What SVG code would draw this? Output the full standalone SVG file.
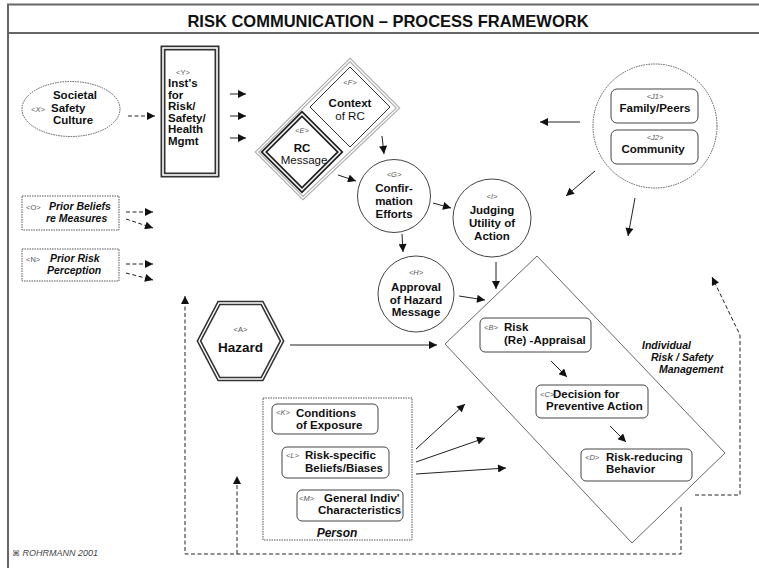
<svg xmlns="http://www.w3.org/2000/svg" width="759" height="568" viewBox="0 0 759 568">
<style>
text{font-family:"Liberation Sans",Arial,sans-serif;fill:#111}
.b{font-weight:bold;font-size:11.5px}
.bi{font-weight:bold;font-style:italic;font-size:10.5px}
.n{font-size:11.5px}
.lab{font-size:7.5px;fill:#555}
.li{font-size:7.5px;fill:#555;font-style:italic}
.m{text-anchor:middle}
.ln{fill:none;stroke:#222;stroke-width:1}
.dash{fill:none;stroke:#222;stroke-width:1;stroke-dasharray:4 2.5}
.dot{fill:none;stroke:#555;stroke-width:1;stroke-dasharray:1.5 1}
.box{fill:#fff;stroke:#444;stroke-width:1}
.frame{stroke:#666;stroke-width:2;fill:none}
</style>
<defs>
<marker id="ah" viewBox="0 0 10 10" refX="10" refY="5" markerWidth="9" markerHeight="8" markerUnits="userSpaceOnUse" orient="auto">
<path d="M0,0 L10,5 L0,10 z" fill="#111"/>
</marker>
</defs>
<rect width="759" height="568" fill="#fff"/>
<g id="frame">
<line class="frame" x1="7" y1="4.5" x2="759" y2="4.5"/>
<line class="frame" x1="7" y1="33" x2="759" y2="33"/>
<line class="frame" x1="8" y1="4" x2="8" y2="568"/>
<text x="388" y="27" class="m" style="font-weight:bold;font-size:16.5px">RISK COMMUNICATION – PROCESS FRAMEWORK</text>
</g>
<g id="nodeX">
<ellipse cx="71" cy="109" rx="49" ry="27.5" class="dot"/>
<text x="75" y="99" class="b m">Societal</text>
<text x="31" y="111.5" class="li">&lt;X&gt;</text>
<text x="51" y="112" class="b">Safety</text>
<text x="73" y="124" class="b m">Culture</text>
</g>
<g id="nodeY">
<rect x="163" y="48" width="54" height="127" fill="#fff" stroke="#333" stroke-width="5"/>
<rect x="163" y="48" width="54" height="127" fill="none" stroke="#fff" stroke-width="1.6"/>
<text x="176" y="75" class="lab">&lt;Y&gt;</text>
<text x="168" y="87" class="b">Inst's</text>
<text x="168" y="98.6" class="b">for</text>
<text x="168" y="110.2" class="b">Risk/</text>
<text x="168" y="121.8" class="b">Safety/</text>
<text x="168" y="133.4" class="b">Health</text>
<text x="168" y="145" class="b">Mgmt</text>
</g>
<g id="nodeEF-frame">
<polygon points="350,60 398,108 303,198 257,152" fill="#fff" stroke="#aaa" stroke-width="3.5"/>
<polygon points="350,60 398,108 303,198 257,152" fill="none" stroke="#fff" stroke-width="1.3"/>
</g>
<g id="nodeF">
<polygon points="350,67 390,107 350,147 310,107" fill="#fff" stroke="#333" stroke-width="1"/>
<text x="350" y="85" class="li m">&lt;F&gt;</text>
<text x="350" y="107" class="b m">Context</text>
<text x="350" y="120" class="n m">of RC</text>
</g>
<g id="nodeE">
<polygon points="302,114 340,152 302,190 264,152" fill="#fff" stroke="#222" stroke-width="5"/>
<polygon points="302,114 340,152 302,190 264,152" fill="none" stroke="#fff" stroke-width="1.5"/>
<text x="302" y="133" class="li m">&lt;E&gt;</text>
<text x="302" y="152" class="b m">RC</text>
<text x="304" y="164" class="n m">Message</text>
</g>
<g id="nodeG">
<circle cx="394" cy="196" r="36.5" class="box"/>
<text x="394" y="177" class="li m">&lt;G&gt;</text>
<text x="394" y="192" class="b m">Confir-</text>
<text x="394" y="205" class="b m">mation</text>
<text x="394" y="218" class="b m">Efforts</text>
</g>
<g id="nodeI">
<circle cx="492" cy="218" r="39" class="box"/>
<text x="492" y="199" class="li m">&lt;I&gt;</text>
<text x="492" y="214" class="b m">Judging</text>
<text x="492" y="227" class="b m">Utility of</text>
<text x="492" y="240" class="b m">Action</text>
</g>
<g id="nodeH">
<circle cx="416" cy="294" r="38" class="box"/>
<text x="416" y="275" class="li m">&lt;H&gt;</text>
<text x="416" y="291" class="b m">Approval</text>
<text x="416" y="303.5" class="b m">of Hazard</text>
<text x="416" y="316" class="b m">Message</text>
</g>
<g id="nodeJ">
<circle cx="655" cy="126" r="62" class="dot"/>
<rect x="611" y="89" width="87" height="34" rx="6" class="box"/>
<text x="655" y="99" class="li m">&lt;J1&gt;</text>
<text x="655" y="112" class="b m">Family/Peers</text>
<rect x="611" y="130" width="87" height="34" rx="6" class="box"/>
<text x="655" y="140" class="li m">&lt;J2&gt;</text>
<text x="653" y="153" class="b m">Community</text>
</g>
<g id="nodeO">
<rect x="22" y="196" width="97" height="34" class="dot"/>
<text x="26" y="210" class="lab">&lt;O&gt;</text>
<text x="49" y="210" class="bi">Prior Beliefs</text>
<text x="46" y="222" class="bi">re Measures</text>
</g>
<g id="nodeN">
<rect x="22" y="249" width="97" height="32" class="dot"/>
<text x="26" y="262" class="lab">&lt;N&gt;</text>
<text x="50" y="262" class="bi">Prior Risk</text>
<text x="47" y="274" class="bi">Perception</text>
</g>
<g id="nodeA">
<polygon points="199,341 219,303 262,303 282,341 262,379 219,379" fill="#fff" stroke="#333" stroke-width="4.5"/>
<polygon points="199,341 219,303 262,303 282,341 262,379 219,379" fill="none" stroke="#fff" stroke-width="1.4"/>
<text x="240.5" y="332" class="lab m">&lt;A&gt;</text>
<text x="240.5" y="352" class="m" style="font-weight:bold;font-size:13.5px">Hazard</text>
</g>
<g id="nodeISM">
<polygon points="537,256 725,453 632,543 445,344" fill="none" stroke="#555" stroke-width="0.9"/>
<text x="642" y="349" class="bi">Individual</text>
<text x="651" y="361" class="bi">Risk / Safety</text>
<text x="659" y="373" class="bi">Management</text>
</g>
<g id="nodeB">
<rect x="480" y="318" width="111" height="34" rx="5" class="box"/>
<text x="484" y="330" class="li">&lt;B&gt;</text>
<text x="504" y="331" class="b">Risk</text>
<text x="504" y="344" class="b">(Re) -Appraisal</text>
</g>
<g id="nodeC">
<rect x="536" y="385" width="112" height="33" rx="5" class="box"/>
<text x="540" y="397" class="li">&lt;C&gt;</text>
<text x="553" y="398" class="b">Decision for</text>
<text x="546" y="410" class="b">Preventive Action</text>
</g>
<g id="nodeD">
<rect x="581" y="449" width="111" height="32" rx="5" class="box"/>
<text x="585" y="460" class="li">&lt;D&gt;</text>
<text x="606" y="461" class="b">Risk-reducing</text>
<text x="606" y="473" class="b">Behavior</text>
</g>
<g id="nodePerson">
<rect x="263" y="398" width="149" height="142" class="dot"/>
<text x="337" y="537" class="m" style="font-weight:bold;font-style:italic;font-size:12px">Person</text>
</g>
<g id="nodeK">
<rect x="272" y="404" width="106" height="30" rx="5" class="box"/>
<text x="276" y="415" class="li">&lt;K&gt;</text>
<text x="296" y="417" class="b">Conditions</text>
<text x="296" y="429" class="b">of Exposure</text>
</g>
<g id="nodeL">
<rect x="282" y="447" width="107" height="31" rx="5" class="box"/>
<text x="286" y="458" class="li">&lt;L&gt;</text>
<text x="305" y="459" class="b">Risk-specific</text>
<text x="305" y="472" class="b">Beliefs/Biases</text>
</g>
<g id="nodeM">
<rect x="297" y="490" width="106" height="31" rx="5" class="box"/>
<text x="299" y="501" class="li">&lt;M&gt;</text>
<text x="324" y="502" class="b">General Indiv'</text>
<text x="318" y="514" class="b">Characteristics</text>
</g>
<g id="connectors">
<line class="dash" x1="128" y1="116" x2="155" y2="116" marker-end="url(#ah)"/>
<line class="ln" x1="230" y1="94" x2="246" y2="94" marker-end="url(#ah)"/>
<line class="ln" x1="230" y1="116" x2="246" y2="116" marker-end="url(#ah)"/>
<line class="ln" x1="230" y1="138" x2="246" y2="138" marker-end="url(#ah)"/>
<line class="ln" x1="382" y1="136" x2="384" y2="154" marker-end="url(#ah)"/>
<line class="ln" x1="338" y1="175" x2="356" y2="181" marker-end="url(#ah)"/>
<line class="ln" x1="433" y1="203" x2="451" y2="208" marker-end="url(#ah)"/>
<line class="ln" x1="402" y1="234" x2="403" y2="252" marker-end="url(#ah)"/>
<line class="ln" x1="496" y1="262" x2="496" y2="289" marker-end="url(#ah)"/>
<line class="ln" x1="459" y1="296" x2="485" y2="300" marker-end="url(#ah)"/>
<line class="ln" x1="290" y1="345" x2="437" y2="345" marker-end="url(#ah)"/>
<line class="ln" x1="551" y1="361" x2="567" y2="377" marker-end="url(#ah)"/>
<line class="ln" x1="610" y1="426" x2="626" y2="442" marker-end="url(#ah)"/>
<line class="ln" x1="580" y1="122" x2="540" y2="122" marker-end="url(#ah)"/>
<line class="ln" x1="595" y1="171" x2="566" y2="196" marker-end="url(#ah)"/>
<line class="ln" x1="635" y1="198" x2="628" y2="236" marker-end="url(#ah)"/>
<line class="dash" x1="126" y1="212" x2="153" y2="212" marker-end="url(#ah)"/>
<line class="dash" x1="126" y1="219" x2="153" y2="228" marker-end="url(#ah)"/>
<line class="dash" x1="126" y1="264" x2="153" y2="264" marker-end="url(#ah)"/>
<line class="dash" x1="126" y1="273" x2="153" y2="280" marker-end="url(#ah)"/>
<line class="ln" x1="416" y1="449" x2="465" y2="404" marker-end="url(#ah)"/>
<line class="ln" x1="416" y1="462" x2="485" y2="438" marker-end="url(#ah)"/>
<line class="ln" x1="416" y1="474" x2="506" y2="468" marker-end="url(#ah)"/>
<path class="dash" d="M695,495 L740,495 L740,335 L712,277" marker-end="url(#ah)"/>
<path class="dash" d="M681,507 L681,554 L185,554 L185,296" marker-end="url(#ah)"/>
<line class="dash" x1="237" y1="554" x2="237" y2="476" marker-end="url(#ah)"/>
</g>
<g id="credit">
<text x="12" y="556" style="font-size:9px;font-style:italic;fill:#444"><tspan style="font-family:'DejaVu Sans',sans-serif;font-style:normal;font-size:8px">⌘</tspan> ROHRMANN 2001</text>
</g>
</svg>
